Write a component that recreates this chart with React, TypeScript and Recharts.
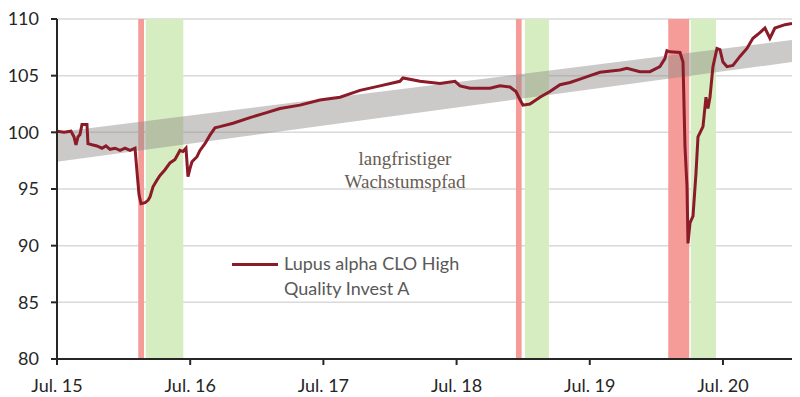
import {
  ComposedChart,
  Line,
  Area,
  XAxis,
  YAxis,
  CartesianGrid,
  ReferenceArea,
} from "recharts";

// x = months since Jul. 2015
const months = [
  0, 0.63, 1.26, 1.53, 1.71, 1.89, 2.07, 2.25, 2.7, 2.79, 3.15, 3.6, 4.05, 4.41, 4.77,
  5.23, 5.68, 6.13, 6.58, 7.03, 7.21, 7.39, 7.57, 7.93, 8.2, 8.38, 8.65, 9.01, 9.28,
  9.73, 10.18, 10.63, 11.08, 11.35, 11.62, 11.8, 11.98, 12.16, 12.61, 12.88, 13.33,
  13.78, 14.23, 14.68, 15.86, 17.39, 18.74, 20.09, 21.89, 23.69, 25.5, 27.3, 29.1,
  30.9, 31.17, 32.7, 34.5, 35.86, 36.31, 37.21, 39.01, 39.91, 40.81, 41.35, 41.71,
  41.98, 42.61, 43.51, 44.41, 45.32, 46.22, 47.12, 48.02, 48.92, 50.72, 51.35, 52.52,
  53.42, 54.32, 54.77, 54.95, 55.23, 56.13, 56.4, 56.58, 56.76, 56.85, 57.03, 57.3,
  57.57, 57.75, 58.2, 58.47, 58.65, 58.83, 59.1, 59.46, 59.73, 60.0, 60.36, 60.9,
  61.53, 62.16, 62.7, 63.33, 63.78, 64.23, 64.68, 65.59, 66.22,
];
const navValues = [
  100.1, 100.0, 100.1, 99.6, 98.9, 99.6, 99.8, 100.7, 100.7, 99.0, 98.9, 98.8, 98.6,
  98.8, 98.5, 98.6, 98.4, 98.6, 98.4, 98.6, 96.5, 94.5, 93.7, 93.8, 94.0, 94.3, 95.2,
  95.8, 96.2, 96.7, 97.3, 97.6, 98.4, 98.3, 98.6, 96.1, 96.8, 97.4, 97.85, 98.4, 99.0,
  99.75, 100.4, 100.5, 100.8, 101.3, 101.7, 102.1, 102.4, 102.85, 103.1, 103.7, 104.1,
  104.5, 104.8, 104.5, 104.3, 104.5, 104.1, 103.9, 103.9, 104.1, 104.0, 103.6, 102.9,
  102.4, 102.5, 103.1, 103.6, 104.2, 104.4, 104.7, 105.0, 105.3, 105.5, 105.65, 105.35,
  105.35, 105.8, 106.5, 107.2, 107.1, 107.05, 106.2, 98.7, 95.2, 90.2, 92.0, 92.6, 96.4,
  99.6, 100.5, 103.1, 102.1, 103.1, 105.8, 107.4, 107.3, 106.2, 105.8, 105.9, 106.7,
  107.4, 108.3, 108.8, 109.2, 108.3, 109.2, 109.5, 109.6,
];

// long-term growth path band
const pathMonths = [0, 66.22];
const pathLow = [97.4, 106.2];
const pathHigh = [100.0, 108.15];

// stress (red) and recovery (green) phases
const stressStart = [7.32, 41.35, 55.07];
const stressEnd = [7.84, 41.86, 56.96];
const recoveryStart = [8.0, 42.16, 57.09];
const recoveryEnd = [11.38, 44.32, 59.37];

const xTicks = [0, 12, 24, 36, 48, 60];
const xTickLabels = ["Jul. 15", "Jul. 16", "Jul. 17", "Jul. 18", "Jul. 19", "Jul. 20"];
const yTicks = [80, 85, 90, 95, 100, 105, 110];

const navData = months.map((m, i) => ({ m, nav: navValues[i] }));
const pathData = pathMonths.map((m, i) => ({ m, band: [pathLow[i], pathHigh[i]] }));

const FONT = "Lato, 'Open Sans', sans-serif";
const LINE = "#8b1b28";

export default function App() {
  return (
    <div style={{ position: "fixed", left: 0, top: 0, width: 800, height: 397, background: "#fff" }}>
      <ComposedChart
        width={800}
        height={397}
        margin={{ top: 19, right: 8, bottom: 8, left: 7 }}
        style={{ fontFamily: FONT }}
      >
        <CartesianGrid vertical={false} stroke="#d9d9d9" strokeWidth={1.5} />
        {stressStart.map((s, i) => (
          <ReferenceArea
            key={"s" + i}
            x1={s}
            x2={stressEnd[i]}
            y1={80}
            y2={110}
            fill="#f59c98"
            fillOpacity={1}
            stroke="none"
          />
        ))}
        {recoveryStart.map((s, i) => (
          <ReferenceArea
            key={"r" + i}
            x1={s}
            x2={recoveryEnd[i]}
            y1={80}
            y2={110}
            fill="#d5edc0"
            fillOpacity={1}
            stroke="none"
          />
        ))}
        <XAxis
          type="number"
          dataKey="m"
          domain={[0, 66.22]}
          ticks={xTicks}
          tickFormatter={(v: number) => xTickLabels[xTicks.indexOf(v)] ?? ""}
          allowDataOverflow
          height={30}
          stroke="#262626"
          strokeWidth={2}
          tickSize={6}
          tickMargin={14}
          tick={{ fill: "#262626", fontSize: 18, fontFamily: FONT }}
        />
        <YAxis
          type="number"
          domain={[80, 110]}
          ticks={yTicks}
          width={50}
          stroke="#262626"
          strokeWidth={2}
          tickSize={6}
          tickMargin={12}
          tick={{ fill: "#262626", fontSize: 18, fontFamily: FONT }}
        />
        <Area
          data={pathData}
          dataKey="band"
          type="linear"
          stroke="none"
          fill="#8f8a86"
          fillOpacity={0.45}
          isAnimationActive={false}
        />
        <Line
          data={navData}
          dataKey="nav"
          type="linear"
          stroke={LINE}
          strokeWidth={3}
          dot={false}
          isAnimationActive={false}
        />
      </ComposedChart>
      <div
        style={{
          position: "absolute",
          left: 232,
          top: 251,
          display: "flex",
          alignItems: "flex-start",
          fontFamily: FONT,
        }}
      >
        <div style={{ width: 46, height: 3, background: LINE, marginTop: 12, marginRight: 6 }} />
        <div style={{ fontSize: 18, lineHeight: "25px", color: "#595959", width: 220 }}>
          Lupus alpha CLO High
          <br />
          Quality Invest A
        </div>
      </div>
      <div
        style={{
          position: "absolute",
          left: 305,
          top: 147,
          width: 200,
          textAlign: "center",
          fontFamily: "'Liberation Serif', serif",
          fontSize: 19,
          lineHeight: "23px",
          color: "#675c53",
        }}
      >
        langfristiger
        <br />
        Wachstumspfad
      </div>
    </div>
  );
}
